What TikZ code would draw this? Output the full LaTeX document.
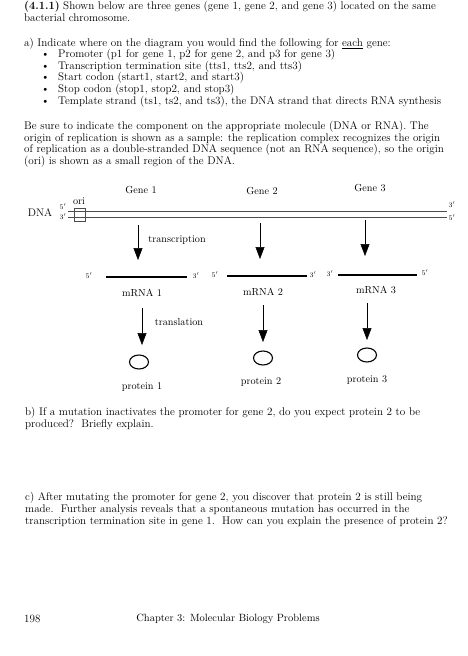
\documentclass[tikz,border=0pt]{standalone}
\usetikzlibrary{arrows.meta,shapes.geometric}
\tikzset{
  txt/.style={anchor=base west, inner sep=0pt, font=\fontsize{11.1}{13}\selectfont},
  lbl/.style={inner sep=0pt, font=\fontsize{10.2}{12}\selectfont},
  prime/.style={inner sep=0pt, font=\fontsize{7}{8}\selectfont},
  strand/.style={draw=black!70, line width=0.5pt},
  rna/.style={line width=1.8pt},
  flow/.style={line width=0.5pt, -{Triangle[width=9pt,length=12pt]}},
  prot/.style={draw, ellipse, line width=1.1pt, minimum width=19pt, minimum height=14pt, inner sep=0pt}
}
\begin{document}
\begin{tikzpicture}[x=1pt,y=-1pt]
  \useasboundingbox (0,0) rectangle (467,656);
  % question text
  \node[txt] (q1) at (24,9.5) {\textbf{(4.1.1)} Shown below are three genes (gene 1, gene 2, and gene 3) located on the same};
  \node[txt] (q2) at (24,21.5) {bacterial chromosome.};
  \node[txt] (qa) at (24,46.5) {a) Indicate where on the diagram you would find the following for \underline{each} gene:};
  \foreach \y/\t [count=\i] in {57.5/{Promoter (p1 for gene 1, p2 for gene 2, and p3 for gene 3)},
      69.2/{Transcription termination site (tts1, tts2, and tts3)},
      80.9/{Start codon (start1, start2, and start3)},
      92.6/{Stop codon (stop1, stop2, and stop3)},
      104.3/{Template strand (ts1, ts2, and ts3), the DNA strand that directs RNA synthesis}}
  {
    \node[txt] (dot\i) at (41,\y) {\textbullet};
    \node[txt] (item\i) at (58,\y) {\t};
  }
  \foreach \y/\t [count=\i] in {129/{Be sure to indicate the component on the appropriate molecule (DNA or RNA). The},
      141/{origin of replication is shown as a sample: the replication complex recognizes the origin},
      152.5/{of replication as a double-stranded DNA sequence (not an RNA sequence), so the origin},
      164/{(ori) is shown as a small region of the DNA.}}
    \node[txt] (note\i) at (24,\y) {\t};

  % DNA
  \node[lbl] (g1) at (141,190) {Gene 1};
  \node[lbl] (g2) at (262,191) {Gene 2};
  \node[lbl] (g3) at (370,188) {Gene 3};
  \node[lbl, font=\fontsize{11}{13}\selectfont] (dna) at (40,213) {DNA};
  \node[prime] (d5l) at (63,207) {5$'$};
  \node[prime] (d3l) at (63,217) {3$'$};
  \node[prime] (d3r) at (452,205) {3$'$};
  \node[prime] (d5r) at (452,218) {5$'$};
  \node[lbl] (ori) at (79,201) {ori};
  \draw[strand] (68,211) -- (447,211);
  \draw[strand] (68,217.5) -- (447,217.5);
  \draw[strand] (74,208.5) rectangle (85,221);

  % transcription
  \coordinate (ta1) at (138,225);  \coordinate (tb1) at (138,260);
  \coordinate (ta2) at (260,223);  \coordinate (tb2) at (260,259);
  \coordinate (ta3) at (365,220);  \coordinate (tb3) at (365,256);
  \foreach \i in {1,2,3} \draw[flow] (ta\i) -- (tb\i);
  \node[lbl] (tx) at (177,240) {transcription};

  % mRNA
  \draw[rna] (106,277) -- (187,277);
  \draw[rna] (227,276) -- (307,276);
  \draw[rna] (338,275) -- (417,275);
  \node[prime] (m5a) at (89,276) {5$'$};
  \node[prime] (m3a) at (196,276) {3$'$};
  \node[prime] (m5b) at (215,275) {5$'$};
  \node[prime] (m3b) at (313,275) {3$'$};
  \node[prime] (m3c) at (330,274) {3$'$};
  \node[prime] (m5c) at (425,273) {5$'$};
  \node[lbl] (r1) at (142,293) {mRNA 1};
  \node[lbl] (r2) at (263,292) {mRNA 2};
  \node[lbl] (r3) at (376,290) {mRNA 3};

  % translation
  \node[prot] (p1) at (139,362) {};
  \node[prot] (p2) at (263,358) {};
  \node[prot] (p3) at (367,355) {};
  \coordinate (la1) at (142,308);  \coordinate (lb1) at (142,345);
  \coordinate (la2) at (263,305);  \coordinate (lb2) at (263,342);
  \coordinate (la3) at (367,303);  \coordinate (lb3) at (367,340);
  \foreach \i in {1,2,3} \draw[flow] (la\i) -- (lb\i);
  \node[lbl] (tl) at (179,322) {translation};
  \node[lbl] (n1) at (142,387) {protein 1};
  \node[lbl] (n2) at (261,382) {protein 2};
  \node[lbl] (n3) at (367,380) {protein 3};

  % parts b and c
  \node[txt] (b1) at (25,415) {b) If a mutation inactivates the promoter for gene 2, do you expect protein 2 to be};
  \node[txt] (b2) at (25,427) {produced?\ \ Briefly explain.};
  \node[txt] (c1) at (25,500) {c) After mutating the promoter for gene 2, you discover that protein 2 is still being};
  \node[txt] (c2) at (25,512) {made.\ \ Further analysis reveals that a spontaneous mutation has occurred in the};
  \node[txt] (c3) at (25,524) {transcription termination site in gene 1.\ \ How can you explain the presence of protein 2?};

  % footer
  \node[txt] (pg) at (24,622) {198};
  \node[lbl, font=\fontsize{10.5}{12}\selectfont] (ch) at (228,619) {Chapter 3: Molecular Biology Problems};
\end{tikzpicture}
\end{document}
